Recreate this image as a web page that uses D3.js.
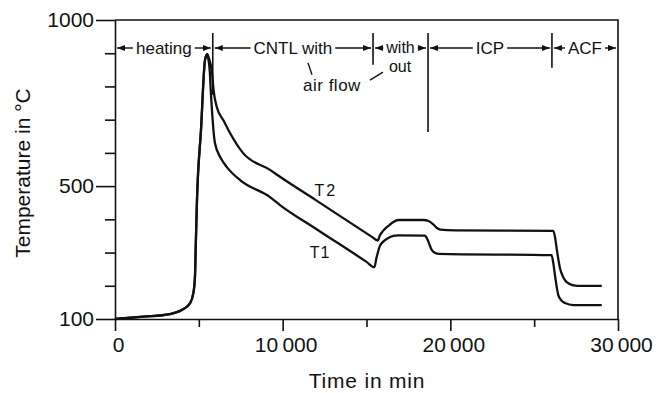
<!DOCTYPE html>
<html>
<head>
<meta charset="utf-8">
<script src="https://cdn.jsdelivr.net/npm/d3@7"></script>
<style>
  body { margin: 0; background: #fff; }
  svg text { font-family: "Liberation Sans", Arial, sans-serif; fill: #111; }
  .axis path, .axis line { stroke: #111; stroke-width: 1.6; }
  .axis text { font-size: 21px; }
</style>
</head>
<body>
<svg id="chart" width="658" height="393"></svg>
<script>
// heating phase, shared by both thermocouples (time in min, temperature in C)
const heatTime = [0, 1690, 3280, 3980, 4470, 4670, 4770, 4810, 4890, 5130, 5370, 5500];
const heatTemp = [100, 107, 115, 127, 147, 177, 227, 308, 458, 670, 880, 897];

// T1 after the peak
const t1Time = [5560, 5660, 5710, 5770, 5960, 6300, 6660, 7460, 9240, 9840, 12000, 15000, 15470,
  15600, 15800, 16000, 16300, 16600, 16900, 18490, 18600, 18690, 18890, 19050, 19280, 26040,
  26150, 26240, 26440, 26640, 26840, 27330, 29030];
const t1Temp = [885, 840, 789, 739, 630, 585, 558, 518, 467, 443, 371, 272, 256,
  285, 320, 333, 344, 350, 352, 351, 343, 333, 308, 300, 296, 292,
  265, 232, 172, 155, 148, 142, 142];

// T2 after the peak
const t2Time = [5600, 5790, 5880, 6065, 6500, 6860, 7630, 9240, 9840, 12000, 15300, 15670,
  15800, 16000, 16300, 16600, 16900, 18400, 18700, 18980, 19200, 19400, 20280, 26140,
  26250, 26340, 26540, 26740, 26940, 27300, 27600, 29030];
const t2Temp = [885, 840, 789, 739, 695, 660, 600, 549, 528, 457, 348, 336,
  352, 366, 380, 392, 398, 398, 395, 385, 374, 369, 367, 365,
  345, 313, 253, 225, 211, 202, 200, 200];

// process phases along the top of the plot
const phaseLabels = ["heating", "CNTL with", "with", "ICP", "ACF"];
const phaseBounds = [0, 5830, 15390, 18670, 26060, 30000];
const dividerTemps = [775, 865, 663, 856];   // lower end of each divider line

const xMajor = [0, 10000, 20000, 30000];
const xMajorLabels = ["0", "10\u2009000", "20\u2009000", "30\u2009000"];
const xMinor = [5000, 15000, 25000];
const yMajor = [100, 500, 1000];
const yMinor = [200, 300, 400, 600, 700, 800, 900];

const svg = d3.select("#chart");
const x = d3.scaleLinear().domain([0, 30000]).range([115, 618]);
const y = d3.scaleLinear().domain([100, 1000]).range([319, 20]);

// arrowhead marker
svg.append("defs").append("marker")
    .attr("id", "head")
    .attr("viewBox", "0 0 8 6")
    .attr("refX", 8).attr("refY", 3)
    .attr("markerWidth", 8).attr("markerHeight", 6)
    .attr("markerUnits", "userSpaceOnUse")
    .attr("orient", "auto")
  .append("path")
    .attr("d", "M0,0L8,3L0,6Z")
    .attr("fill", "#111");

// frame (top and right)
svg.append("path")
    .attr("d", `M${x(0)},${y(1000)}H${x(30000)}V${y(100)}`)
    .attr("fill", "none")
    .attr("stroke", "#111")
    .attr("stroke-width", 1.6);

// axes
svg.append("g").attr("class", "axis")
    .attr("transform", `translate(0,${y(100)})`)
    .call(d3.axisBottom(x).tickValues(xMajor).tickSize(12).tickSizeOuter(0).tickPadding(6)
      .tickFormat((d, i) => xMajorLabels[i]))
    .call(g => g.selectAll("text").attr("dx", 3));
svg.append("g").attr("class", "axis")
    .attr("transform", `translate(0,${y(100)})`)
    .call(d3.axisBottom(x).tickValues(xMinor).tickSize(8).tickSizeOuter(0).tickFormat(""))
    .call(g => g.select(".domain").remove());

svg.append("g").attr("class", "axis")
    .attr("transform", `translate(${x(0)},0)`)
    .call(d3.axisLeft(y).tickValues(yMajor).tickSize(19).tickSizeOuter(0).tickPadding(2)
      .tickFormat(d3.format("d")));
svg.append("g").attr("class", "axis")
    .attr("transform", `translate(${x(0)},0)`)
    .call(d3.axisLeft(y).tickValues(yMinor).tickSize(10).tickFormat(""))
    .call(g => g.select(".domain").remove());

// curves
const line = d3.line()
    .x(d => x(d[0]))
    .y(d => y(d[1]))
    .curve(d3.curveMonotoneX);

const series = [
  d3.zip(heatTime.concat(t1Time), heatTemp.concat(t1Temp)),
  d3.zip(heatTime.concat(t2Time), heatTemp.concat(t2Temp))
];
svg.selectAll(".curve")
  .data(series)
  .enter().append("path")
    .attr("class", "curve")
    .attr("d", line)
    .attr("fill", "none")
    .attr("stroke", "#111")
    .attr("stroke-width", 2.3)
    .attr("stroke-linejoin", "round");

svg.append("text").attr("x", x(12580)).attr("y", y(470))
    .attr("text-anchor", "middle").attr("font-size", 16).attr("letter-spacing", 2)
    .text("T2");
svg.append("text").attr("x", x(12230)).attr("y", y(285))
    .attr("text-anchor", "middle").attr("font-size", 16).attr("letter-spacing", 1)
    .text("T1");

// phase dividers
svg.selectAll(".divider")
  .data(dividerTemps)
  .enter().append("line")
    .attr("class", "divider")
    .attr("x1", (d, i) => x(phaseBounds[i + 1]))
    .attr("x2", (d, i) => x(phaseBounds[i + 1]))
    .attr("y1", 33)
    .attr("y2", d => y(d))
    .attr("stroke", "#111")
    .attr("stroke-width", 1.6);

// phase labels with arrows
const rowY = 48;
phaseLabels.forEach((label, i) => {
  const x0 = x(phaseBounds[i]), x1 = x(phaseBounds[i + 1]);
  const cx = (x0 + x1) / 2;
  const t = svg.append("text")
      .attr("x", cx).attr("y", label === "with" ? rowY + 5 : rowY + 6)
      .attr("text-anchor", "middle")
      .attr("font-size", label === "with" ? 16 : 17)
      .text(label);
  const w = t.node().getComputedTextLength();
  [[cx - w / 2 - 3, x0 + 2], [cx + w / 2 + 3, x1 - 2]].forEach(([a, b]) => {
    svg.append("line")
        .attr("x1", a).attr("x2", b)
        .attr("y1", rowY).attr("y2", rowY)
        .attr("stroke", "#111")
        .attr("stroke-width", 1.4)
        .attr("marker-end", "url(#head)");
  });
});

// second lines of the "with / without air flow" labels
svg.append("text").attr("x", x(17000)).attr("y", y(843))
    .attr("text-anchor", "middle").attr("font-size", 16).text("out");
svg.append("text").attr("x", x(12940)).attr("y", y(786))
    .attr("text-anchor", "middle").attr("font-size", 17).attr("letter-spacing", 0.5).text("air flow");
svg.append("line")
    .attr("x1", x(11510)).attr("y1", y(871)).attr("x2", x(11750)).attr("y2", y(835))
    .attr("stroke", "#111").attr("stroke-width", 1.4);
svg.append("line")
    .attr("x1", x(15210)).attr("y1", y(819)).attr("x2", x(15980)).attr("y2", y(843))
    .attr("stroke", "#111").attr("stroke-width", 1.4);

// axis titles
svg.append("text")
    .attr("transform", `translate(30,173) rotate(-90)`)
    .attr("text-anchor", "middle")
    .attr("font-size", 21)
    .text("Temperature in \u00b0C");
svg.append("text")
    .attr("x", 367).attr("y", 388)
    .attr("text-anchor", "middle")
    .attr("font-size", 21)
    .attr("letter-spacing", 0.8)
    .text("Time in min");
</script>
</body>
</html>
